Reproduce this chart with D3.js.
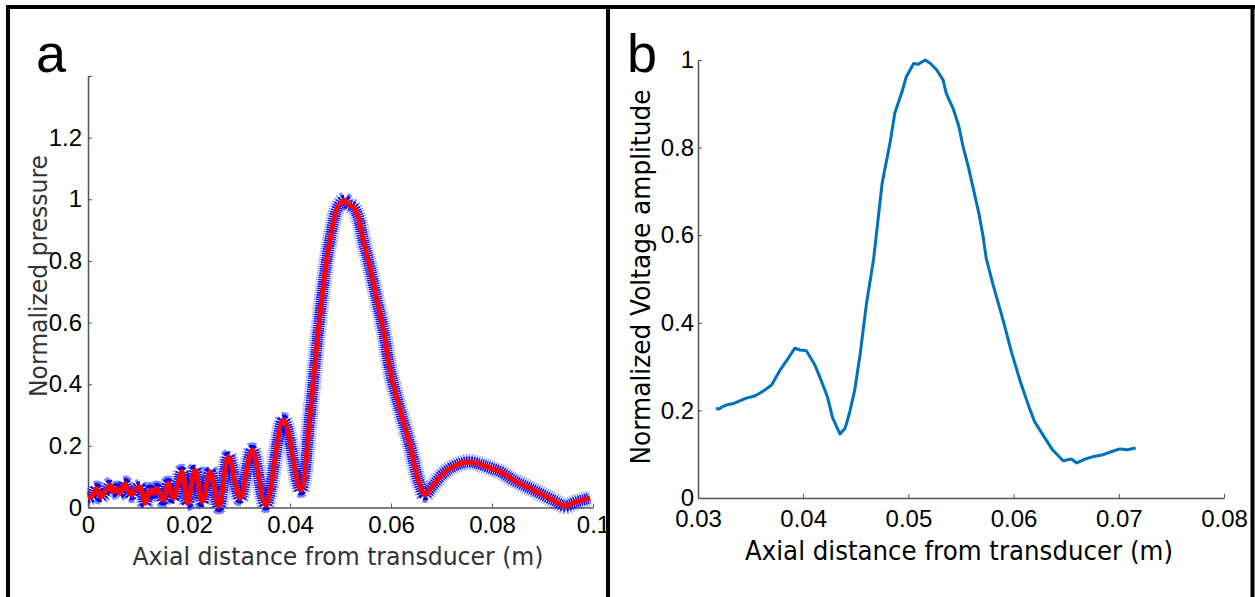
<!DOCTYPE html>
<html>
<head>
<meta charset="utf-8">
<script src="https://cdn.jsdelivr.net/npm/d3@7"></script>
<style>
  body { margin: 0; background: #fff; }
  svg { display: block; }
</style>
</head>
<body>
<script>
// panel a: simulated normalized pressure along the axis
const pressureX = [0.0000, 0.0007, 0.0017, 0.0024, 0.0030, 0.0044, 0.0050, 0.0057, 0.0063, 0.0073,
  0.0080, 0.0087, 0.0093, 0.0103, 0.0113, 0.0123, 0.0129, 0.0136, 0.0143, 0.0149,
  0.0159, 0.0169, 0.0186, 0.0197, 0.0212, 0.0226, 0.0242, 0.0259, 0.0278, 0.0301,
  0.0325, 0.0352, 0.0387, 0.0421, 0.0440, 0.0456, 0.0469, 0.0479, 0.0492, 0.0502,
  0.0509, 0.0515, 0.0525, 0.0535, 0.0545, 0.0558, 0.0572, 0.0585, 0.0598, 0.0618,
  0.0638, 0.0654, 0.0667, 0.0681, 0.0704, 0.0730, 0.0756, 0.0790, 0.0816, 0.0842,
  0.0882, 0.0921, 0.0945, 0.0968, 0.0994]
const pressureY = [0.031, 0.035, 0.062, 0.035, 0.041, 0.073, 0.051, 0.062, 0.046, 0.078,
  0.051, 0.041, 0.057, 0.067, 0.014, 0.057, 0.046, 0.062, 0.041, 0.024,
  0.078, 0.030, 0.116, 0.014, 0.122, 0.019, 0.116, 0.003, 0.165, 0.030,
  0.186, 0.008, 0.284, 0.057, 0.305, 0.575, 0.759, 0.867, 0.964, 0.991,
  0.997, 0.984, 0.975, 0.943, 0.867, 0.781, 0.673, 0.575, 0.446, 0.316,
  0.199, 0.089, 0.041, 0.067, 0.111, 0.138, 0.148, 0.132, 0.116, 0.089,
  0.057, 0.024, 0.005, 0.019, 0.030]

// panel b: measured normalized voltage amplitude
const voltageX = [0.0317, 0.0320, 0.0323, 0.0328, 0.0333, 0.0339, 0.0346, 0.0354, 0.0362, 0.0370,
  0.0378, 0.0386, 0.0392, 0.0397, 0.0403, 0.0411, 0.0417, 0.0423, 0.0428, 0.0435,
  0.0440, 0.0444, 0.0449, 0.0454, 0.0460, 0.0467, 0.0475, 0.0483, 0.0487, 0.0494,
  0.0498, 0.0505, 0.0509, 0.0516, 0.0521, 0.0527, 0.0533, 0.0536, 0.0543, 0.0548,
  0.0552, 0.0557, 0.0562, 0.0567, 0.0571, 0.0574, 0.0580, 0.0590, 0.0598, 0.0606,
  0.0614, 0.0620, 0.0625, 0.0637, 0.0647, 0.0655, 0.0660, 0.0668, 0.0675, 0.0684,
  0.0692, 0.0701, 0.0708, 0.0716]
const voltageY = [0.205, 0.203, 0.208, 0.213, 0.215, 0.221, 0.228, 0.233, 0.244, 0.258,
  0.292, 0.320, 0.342, 0.338, 0.336, 0.304, 0.269, 0.231, 0.183, 0.146,
  0.160, 0.194, 0.247, 0.326, 0.441, 0.547, 0.718, 0.817, 0.878, 0.928,
  0.962, 0.992, 0.990, 1.000, 0.992, 0.977, 0.954, 0.924, 0.886, 0.848,
  0.802, 0.756, 0.703, 0.650, 0.597, 0.547, 0.491, 0.406, 0.333, 0.269,
  0.212, 0.174, 0.155, 0.110, 0.085, 0.089, 0.080, 0.089, 0.094, 0.098,
  0.105, 0.112, 0.110, 0.114]

const xTicksA = [0, 0.02, 0.04, 0.06, 0.08, 0.1]
const yTicksA = [0, 0.2, 0.4, 0.6, 0.8, 1, 1.2, 1.4]
const xTicksB = [0.03, 0.04, 0.05, 0.06, 0.07, 0.08]
const yTicksB = [0, 0.2, 0.4, 0.6, 0.8, 1]

const w = 1255, h = 597
const svg = d3.select('body').append('svg').attr('width', w).attr('height', h)

// outer frame
const frame = svg.append('g').attr('stroke', '#000').attr('stroke-width', 4)
frame.append('line').attr('x1', 6).attr('x2', 1255).attr('y1', 7).attr('y2', 7)
frame.append('line').attr('x1', 8).attr('x2', 8).attr('y1', 5).attr('y2', h)
frame.append('line').attr('x1', 608).attr('x2', 608).attr('y1', 5).attr('y2', h)
frame.append('line').attr('x1', 1252.5).attr('x2', 1252.5).attr('y1', 5).attr('y2', h)

function drawAxes(x, y, xTicks, yTicks, yHideLast, xPad, yPad) {
    let gx = svg.append('g')
        .attr('transform', 'translate(0,' + y.range()[0] + ')')
        .call(d3.axisBottom(x).tickValues(xTicks).tickSizeInner(-4).tickSizeOuter(0)
            .tickPadding(xPad).tickFormat(d => String(d)))
    let gy = svg.append('g')
        .attr('transform', 'translate(' + x.range()[0] + ',0)')
        .call(d3.axisLeft(y).tickValues(yTicks).tickSizeInner(-4).tickSizeOuter(0)
            .tickPadding(yPad).tickFormat((d, i) => (yHideLast && i == yTicks.length - 1) ? '' : String(d)))
    for (let g of [gx, gy]) {
        g.attr('font-size', null).attr('font-family', null)
        g.select('.domain').attr('stroke', '#555').attr('stroke-width', 1.5)
        g.selectAll('.tick line').attr('stroke', '#555')
        g.selectAll('.tick text')
            .style('font-family', '"Liberation Sans", Arial, sans-serif')
            .style('font-size', '24px')
            .attr('fill', '#000')
    }
}

function label(text, x, y, size, len, color, rotate) {
    svg.append('text')
        .attr('transform', 'translate(' + x + ',' + y + ')' + (rotate ? ' rotate(-90)' : ''))
        .attr('text-anchor', 'middle')
        .attr('font-family', '"DejaVu Sans", Tahoma, sans-serif')
        .attr('font-size', size)
        .attr('fill', color)
        .attr('textLength', len)
        .attr('lengthAdjust', 'spacingAndGlyphs')
        .text(text)
}

// ---- panel a ----
let xA = d3.scaleLinear().domain([0, 0.1]).range([88, 593])
let yA = d3.scaleLinear().domain([0, 1.4]).range([507.5, 76])
drawAxes(xA, yA, xTicksA, yTicksA, true, 8.5, 6)

let lineA = d3.line().x(d => xA(d[0])).y(d => yA(d[1])).curve(d3.curveCatmullRom)
let ptsA = pressureX.map((v, i) => [v, pressureY[i]])

// blue asterisk band, then red line on top
svg.append('path').datum(ptsA).attr('d', lineA).attr('fill', 'none')
    .attr('stroke', '#2233ff').attr('stroke-width', 16).attr('stroke-dasharray', '1 1.2')
    .attr('stroke-opacity', 0.6).attr('stroke-linejoin', 'round')
svg.append('path').datum(ptsA).attr('d', lineA).attr('fill', 'none')
    .attr('stroke', '#0000ff').attr('stroke-width', 11).attr('stroke-dasharray', '1.4 0.8')
    .attr('stroke-linejoin', 'round')
svg.append('path').datum(ptsA).attr('d', lineA).attr('fill', 'none')
    .attr('stroke', '#ff0000').attr('stroke-width', 5).attr('stroke-linejoin', 'round')

label('Axial distance from transducer (m)', 338, 565, 24, 411, '#333')
label('Normalized pressure', 47, 276, 24, 242, '#333', true)
svg.append('text').attr('x', 36).attr('y', 72)
    .attr('font-family', '"Liberation Sans", Arial, sans-serif').attr('font-size', 54)
    .text('a')

// ---- panel b ----
let xB = d3.scaleLinear().domain([0.03, 0.08]).range([698, 1224])
let yB = d3.scaleLinear().domain([0, 1]).range([498, 60])
drawAxes(xB, yB, xTicksB, yTicksB, false, 12, 4)

let lineB = d3.line().x(d => xB(d[0])).y(d => yB(d[1]))
svg.append('path').datum(voltageX.map((v, i) => [v, voltageY[i]]))
    .attr('d', lineB).attr('fill', 'none')
    .attr('stroke', '#0072bd').attr('stroke-width', 3).attr('stroke-linejoin', 'round')

label('Axial distance from transducer (m)', 959, 560, 27, 428, '#000')
label('Normalized Voltage amplitude', 650, 277, 27, 375, '#000', true)
svg.append('text').attr('x', 627).attr('y', 72)
    .attr('font-family', '"Liberation Sans", Arial, sans-serif').attr('font-size', 54)
    .text('b')
</script>
</body>
</html>
